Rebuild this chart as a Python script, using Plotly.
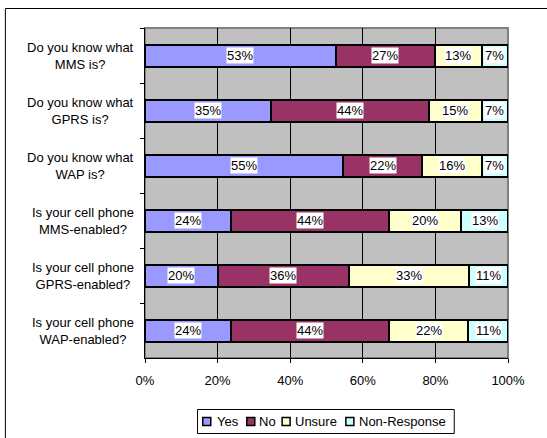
import plotly.graph_objects as go

# ---- data ----
questions = [
    "Do you know what MMS is?",
    "Do you know what GPRS is?",
    "Do you know what WAP is?",
    "Is your cell phone MMS-enabled?",
    "Is your cell phone GPRS-enabled?",
    "Is your cell phone WAP-enabled?",
]
question_lines = [
    ("Do you know what", "MMS is?"),
    ("Do you know what", "GPRS is?"),
    ("Do you know what", "WAP is?"),
    ("Is your cell phone", "MMS-enabled?"),
    ("Is your cell phone", "GPRS-enabled?"),
    ("Is your cell phone", "WAP-enabled?"),
]
series_names = ["Yes", "No", "Unsure", "Non-Response"]
yes = [52.6, 34.6, 54.6, 23.6, 20.0, 23.6]
no = [27.3, 43.6, 21.8, 43.6, 36.3, 43.6]
unsure = [12.8, 14.6, 16.3, 19.9, 32.9, 21.9]
non_response = [7.3, 7.2, 7.3, 12.9, 10.8, 10.9]
x_ticks = [0, 20, 40, 60, 80, 100]
x_tick_labels = ["0%", "20%", "40%", "60%", "80%", "100%"]

series_values = [yes, no, unsure, non_response]
colors = ["#9999FF", "#993366", "#FFFFCC", "#CCFFFF"]

# ---- layout geometry (pixels) ----
W, H = 547, 438
L, R, T, B = 145, 507.7, 28, 358
FONT = "Liberation Sans, Arial, sans-serif"


def px(x):
    return (x - L) / (R - L)


def py(y):
    return (B - y) / (B - T)


fig = go.Figure()
for name, vals, col in zip(series_names, series_values, colors):
    fig.add_trace(go.Bar(
        y=questions, x=vals, name=name, orientation="h",
        marker=dict(color=col, line=dict(color="black", width=2)),
        showlegend=False, hoverinfo="x+name",
    ))

annotations = []
# data labels with white boxes
cum = [0.0] * len(questions)
for vals in series_values:
    for i, v in enumerate(vals):
        annotations.append(dict(
            x=cum[i] + v / 2, y=questions[i], xref="x", yref="y",
            text=f"{int(v + 0.5)}%", showarrow=False,
            bgcolor="white", borderpad=0,
            font=dict(family=FONT, size=13, color="black"),
        ))
        cum[i] += v

# category labels (centered two-line)
for q, (l1, l2) in zip(questions, question_lines):
    annotations.append(dict(
        x=px(136), y=q, xref="paper", yref="y",
        text=f"{l1}<br>{l2}", showarrow=False, align="center",
        xanchor="right", yanchor="middle",
        font=dict(family=FONT, size=13, color="black"),
    ))

shapes = []
# plot area border (gray)
shapes.append(dict(type="rect", xref="paper", yref="paper", x0=0, x1=1, y0=0, y1=1,
                   line=dict(color="#808080", width=2), layer="below"))
# outer chart frame
shapes.append(dict(type="path", xref="paper", yref="paper",
                   path=f"M {px(5.5)},{py(460)} L {px(5.5)},{py(8.5)} L {px(560)},{py(8.5)}",
                   line=dict(color="black", width=1)))

# manual legend
leg_x0, leg_x1, leg_y0, leg_y1 = 197.5, 454, 409.5, 433.5
shapes.append(dict(type="rect", xref="paper", yref="paper",
                   x0=px(leg_x0), x1=px(leg_x1), y0=py(leg_y1), y1=py(leg_y0),
                   line=dict(color="black", width=1), fillcolor="white"))
sq_x = [202.7, 246.7, 282.0, 345.7]
txt_x = [214.5, 257.0, 293.0, 357.0]
for name, col, sx, tx in zip(series_names, colors, sq_x, txt_x):
    shapes.append(dict(type="rect", xref="paper", yref="paper",
                       x0=px(sx), x1=px(sx + 8), y0=py(425.5), y1=py(417.5),
                       line=dict(color="black", width=1.5), fillcolor=col))
    annotations.append(dict(
        x=px(tx), y=py(421.5), xref="paper", yref="paper",
        text=name, showarrow=False, xanchor="left", yanchor="middle",
        font=dict(family=FONT, size=13, color="black"),
    ))

fig.update_layout(
    barmode="stack",
    bargap=0.6,
    width=W, height=H, autosize=False,
    margin=dict(l=L, r=W - R, t=T, b=H - B, pad=0),
    paper_bgcolor="white",
    plot_bgcolor="#C0C0C0",
    font=dict(family=FONT, size=13, color="black"),
    showlegend=False,
    annotations=annotations,
    shapes=shapes,
    xaxis=dict(
        range=[0, 100], tickvals=x_ticks, ticktext=x_tick_labels,
        showgrid=True, gridcolor="black", gridwidth=1,
        zeroline=False, showline=True, linecolor="black", linewidth=1,
        ticks="outside", ticklen=4, tickcolor="black",
        ticklabelstandoff=6, fixedrange=True,
    ),
    yaxis=dict(
        type="category", autorange="reversed",
        showticklabels=False, tickson="boundaries",
        ticks="outside", ticklen=4, tickcolor="black",
        showline=True, linecolor="black", linewidth=1,
        showgrid=False, zeroline=False, fixedrange=True,
    ),
)

fig.write_html("out.html")
